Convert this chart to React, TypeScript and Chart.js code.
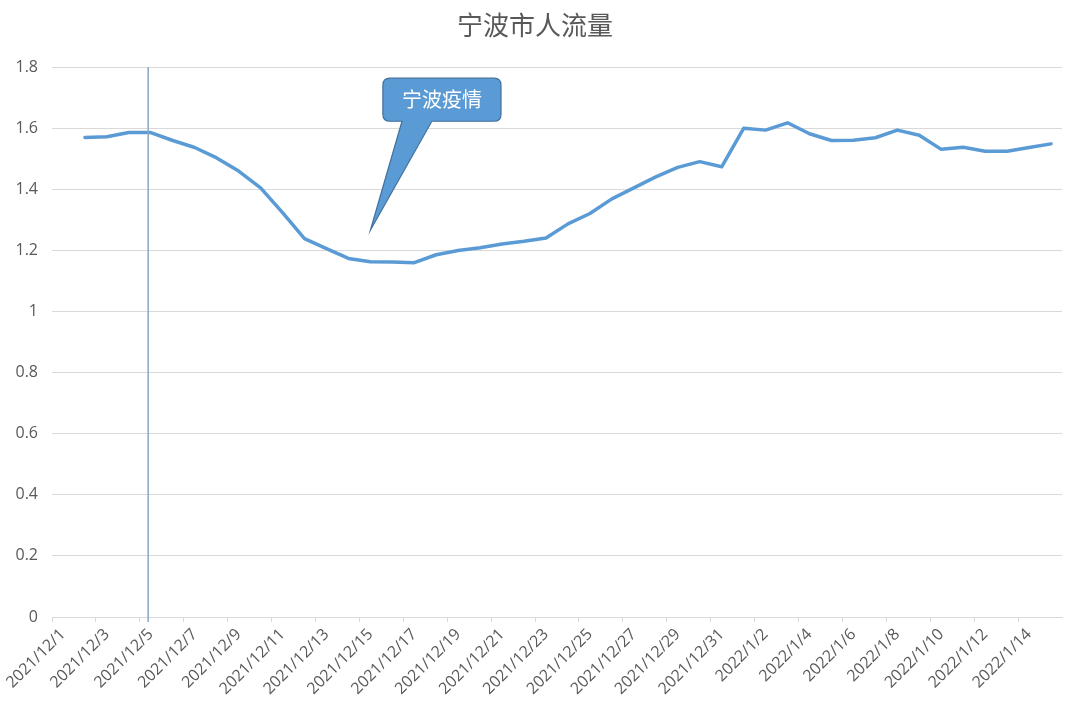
import { useEffect, useRef } from 'react'
import { Chart, registerables } from 'chart.js'

Chart.register(...registerables)

const dates = [
  '2021/12/1', '2021/12/2', '2021/12/3', '2021/12/4', '2021/12/5', '2021/12/6', '2021/12/7', '2021/12/8',
  '2021/12/9', '2021/12/10', '2021/12/11', '2021/12/12', '2021/12/13', '2021/12/14', '2021/12/15', '2021/12/16',
  '2021/12/17', '2021/12/18', '2021/12/19', '2021/12/20', '2021/12/21', '2021/12/22', '2021/12/23', '2021/12/24',
  '2021/12/25', '2021/12/26', '2021/12/27', '2021/12/28', '2021/12/29', '2021/12/30', '2021/12/31',
  '2022/1/1', '2022/1/2', '2022/1/3', '2022/1/4', '2022/1/5', '2022/1/6', '2022/1/7', '2022/1/8',
  '2022/1/9', '2022/1/10', '2022/1/11', '2022/1/12', '2022/1/13', '2022/1/14', '2022/1/15'
]

// 12/1 has no value
const flow = [
  null, 1.570, 1.572, 1.586, 1.586, 1.560, 1.537, 1.503,
  1.460, 1.405, 1.324, 1.239, 1.206, 1.174, 1.163, 1.162,
  1.160, 1.186, 1.200, 1.209, 1.221, 1.230, 1.241, 1.287,
  1.321, 1.369, 1.405, 1.441, 1.472, 1.491, 1.474,
  1.600, 1.594, 1.618, 1.582, 1.560, 1.561, 1.569, 1.594,
  1.577, 1.531, 1.538, 1.525, 1.525, 1.537, 1.549
]

const yTicks = [0, 0.2, 0.4, 0.6, 0.8, 1, 1.2, 1.4, 1.6, 1.8]

const markerDate = '2021/12/5'
const calloutText = '宁波疫情'
// callout anchors in data units (category index / value)
const calloutTip = { index: 14, value: 1.266 }
const calloutBox = { left: 14.57, right: 19.95, top: 1.764, bottom: 1.623 }
const calloutBase = { left: 15.44, right: 16.8 }

const FONT = "'Open Sans', 'Noto Sans CJK SC', sans-serif"
const CJK = "'Noto Sans CJK SC', sans-serif"

const markerPlugin = {
  id: 'marker',
  afterDatasetsDraw(chart: any) {
    const { ctx, chartArea } = chart
    const x = chart.scales.x
    const y = chart.scales.y

    // vertical marker line, a touch left of the 12/5 centre like the original shape
    const vx = x.getPixelForValue(dates.indexOf(markerDate) - 0.12)
    ctx.save()
    ctx.strokeStyle = '#8aa5c4'
    ctx.lineWidth = 1.5
    ctx.beginPath()
    ctx.moveTo(vx, chartArea.top)
    ctx.lineTo(vx, chartArea.bottom + 5)
    ctx.stroke()

    // callout
    const l = x.getPixelForValue(calloutBox.left)
    const r = x.getPixelForValue(calloutBox.right)
    const t = y.getPixelForValue(calloutBox.top)
    const b = y.getPixelForValue(calloutBox.bottom)
    const bl = x.getPixelForValue(calloutBase.left)
    const br = x.getPixelForValue(calloutBase.right)
    const tx = x.getPixelForValue(calloutTip.index)
    const ty = y.getPixelForValue(calloutTip.value)
    const rad = 7
    ctx.beginPath()
    ctx.moveTo(l + rad, t)
    ctx.lineTo(r - rad, t)
    ctx.quadraticCurveTo(r, t, r, t + rad)
    ctx.lineTo(r, b - rad)
    ctx.quadraticCurveTo(r, b, r - rad, b)
    ctx.lineTo(br, b)
    ctx.lineTo(tx, ty)
    ctx.lineTo(bl, b)
    ctx.lineTo(l + rad, b)
    ctx.quadraticCurveTo(l, b, l, b - rad)
    ctx.lineTo(l, t + rad)
    ctx.quadraticCurveTo(l, t, l + rad, t)
    ctx.closePath()
    ctx.fillStyle = '#5b9bd5'
    ctx.fill()
    ctx.strokeStyle = '#41719c'
    ctx.lineWidth = 1.2
    ctx.stroke()

    ctx.fillStyle = '#ffffff'
    ctx.font = `20px ${CJK}`
    ctx.textAlign = 'center'
    ctx.textBaseline = 'middle'
    ctx.fillText(calloutText, (l + r) / 2, (t + b) / 2)
    ctx.restore()
  }
}

function FlowChart() {
  const canvasRef = useRef<HTMLCanvasElement>(null)
  const chartRef = useRef<Chart | null>(null)

  useEffect(() => {
    if (!canvasRef.current) return
    if (chartRef.current) chartRef.current.destroy()
    const ctx = canvasRef.current.getContext('2d')
    if (!ctx) return

    chartRef.current = new Chart(ctx, {
      type: 'line',
      data: {
        labels: dates,
        datasets: [
          {
            label: '人流量',
            data: flow,
            borderColor: '#5b9bd5',
            backgroundColor: '#5b9bd5',
            borderWidth: 3.5,
            pointRadius: 0,
            tension: 0,
            borderJoinStyle: 'round',
            borderCapStyle: 'round'
          }
        ]
      },
      options: {
        responsive: true,
        maintainAspectRatio: false,
        animation: false,
        layout: {
          padding: { left: 8, right: 18, top: 0, bottom: 0 }
        },
        plugins: {
          legend: { display: false },
          tooltip: { enabled: false },
          title: {
            display: true,
            text: '宁波市人流量',
            color: '#595959',
            font: { size: 26, family: CJK, weight: 'normal' },
            padding: { top: 10, bottom: 26 }
          }
        },
        scales: {
          x: {
            offset: true,
            grid: {
              offset: true,
              drawOnChartArea: false,
              tickLength: 5,
              color: (c: any) => (c.index % 2 === 0 ? '#d9d9d9' : 'rgba(0,0,0,0)'),
              tickColor: (c: any) => (c.index % 2 === 0 ? '#d9d9d9' : 'rgba(0,0,0,0)')
            },
            border: { color: '#d9d9d9' },
            ticks: {
              autoSkip: false,
              minRotation: 45,
              maxRotation: 45,
              padding: 3,
              color: '#595959',
              font: { size: 16, family: FONT },
              callback: function (_v: any, i: number) {
                return i % 2 === 0 ? dates[i] : ''
              }
            },
            afterFit: (s: any) => {
              s.height = 88
            }
          },
          y: {
            min: 0,
            max: 1.8,
            afterBuildTicks: (s: any) => {
              s.ticks = yTicks.map((v) => ({ value: v }))
            },
            grid: { color: '#d9d9d9', drawTicks: false },
            border: { display: false },
            ticks: {
              padding: 14,
              color: '#595959',
              font: { size: 16, family: FONT },
              callback: function (v: any) {
                return String(Number(Number(v).toFixed(1)))
              }
            },
            afterFit: (s: any) => {
              s.width = 44
            }
          }
        }
      },
      plugins: [markerPlugin]
    } as any)

    return () => {
      if (chartRef.current) {
        chartRef.current.destroy()
        chartRef.current = null
      }
    }
  }, [])

  return (
    <div style={{ position: 'fixed', left: 0, top: 0, width: 1080, height: 705, background: '#fff' }}>
      <canvas ref={canvasRef} />
    </div>
  )
}

export default function App() {
  return <FlowChart />
}
